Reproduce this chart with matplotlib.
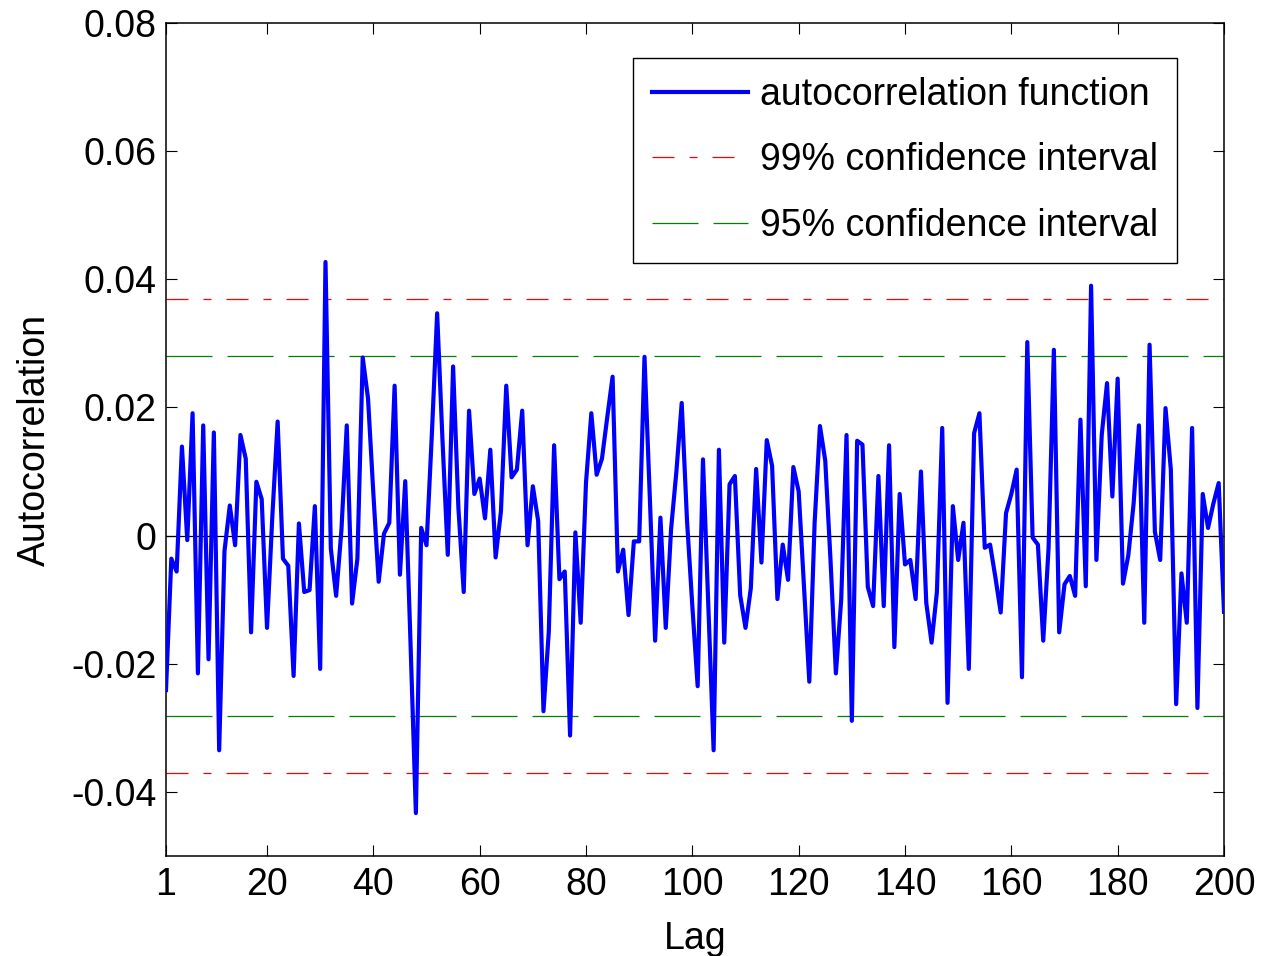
import numpy as np
import matplotlib
matplotlib.use('Agg')
import matplotlib.pyplot as plt

# sample autocorrelation, lags 1..200
lags = np.arange(1, 201)
acf = [
    -0.0241, -0.0036, -0.0056, 0.0139, -0.0007, 0.0191, -0.0215, 0.0172, -0.0193, 0.0161,
    -0.0335, -0.0024, 0.0047, -0.0015, 0.0157, 0.0120, -0.0151, 0.0084, 0.0057, -0.0144,
    0.0030, 0.0178, -0.0036, -0.0047, -0.0219, 0.0019, -0.0088, -0.0085, 0.0046, -0.0208,
    0.0427, -0.0020, -0.0094, 0.0009, 0.0172, -0.0106, -0.0036, 0.0278, 0.0214, 0.0066,
    -0.0072, 0.0003, 0.0020, 0.0234, -0.0061, 0.0085, -0.0170, -0.0433, 0.0012, -0.0015,
    0.0157, 0.0347, 0.0150, -0.0030, 0.0264, 0.0043, -0.0088, 0.0195, 0.0065, 0.0089,
    0.0027, 0.0134, -0.0034, 0.0038, 0.0234, 0.0091, 0.0103, 0.0195, -0.0015, 0.0077,
    0.0023, -0.0274, -0.0150, 0.0141, -0.0068, -0.0056, -0.0312, 0.0005, -0.0136, 0.0083,
    0.0191, 0.0095, 0.0120, 0.0185, 0.0248, -0.0056, -0.0022, -0.0124, -0.0009, -0.0009,
    0.0279, 0.0060, -0.0164, 0.0028, -0.0144, 0.0010, 0.0100, 0.0207, 0.0023, -0.0110,
    -0.0235, 0.0119, -0.0110, -0.0335, 0.0134, -0.0167, 0.0080, 0.0093, -0.0093, -0.0144,
    -0.0082, 0.0104, -0.0042, 0.0149, 0.0109, -0.0099, -0.0014, -0.0069, 0.0107, 0.0069,
    -0.0080, -0.0228, 0.0020, 0.0171, 0.0117, -0.0040, -0.0215, -0.0100, 0.0157, -0.0289,
    0.0148, 0.0142, -0.0080, -0.0110, 0.0093, -0.0110, 0.0141, -0.0174, 0.0065, -0.0045,
    -0.0038, -0.0099, 0.0100, -0.0105, -0.0167, -0.0088, 0.0168, -0.0261, 0.0046, -0.0038,
    0.0020, -0.0208, 0.0160, 0.0191, -0.0019, -0.0014, -0.0065, -0.0120, 0.0035, 0.0065,
    0.0103, -0.0221, 0.0302, -0.0003, -0.0014, -0.0164, -0.0020, 0.0290, -0.0151, -0.0076,
    -0.0063, -0.0094, 0.0181, -0.0079, 0.0390, -0.0038, 0.0157, 0.0238, 0.0061, 0.0245,
    -0.0075, -0.0031, 0.0050, 0.0172, -0.0136, 0.0298, 0.0006, -0.0038, 0.0199, 0.0103,
    -0.0263, -0.0059, -0.0136, 0.0168, -0.0269, 0.0065, 0.0012, 0.0050, 0.0082, -0.0119,
]

# confidence bounds
ci99 = 0.0370
ci95 = 0.0281

xticks = [1, 20, 40, 60, 80, 100, 120, 140, 160, 180, 200]
yticks = [-0.04, -0.02, 0, 0.02, 0.04, 0.06, 0.08]
ytick_labels = ['-0.04', '-0.02', '0', '0.02', '0.04', '0.06', '0.08']

plt.rcParams['font.family'] = ['Liberation Sans', 'DejaVu Sans']
plt.rcParams['axes.unicode_minus'] = False
fs = 27

red = (1, 0, 0)
green = (0, 0.5, 0)
dd = (17.6, 12, 6.4, 12)   # dash-dot pattern
dl = (36.8, 12)            # long dashes

fig = plt.figure(figsize=(12.61, 9.56), dpi=100)
ax = fig.add_axes([166/1261, 1-856/956, (1224-166)/1261, (856-23)/956])

ax.plot(lags, acf, color=(0, 0, 1), lw=3.0, zorder=4, label='autocorrelation function')
ax.plot([lags[0], lags[-1]], [ci99, ci99], color=red, lw=0.9,
        dashes=dd, zorder=2, label='99% confidence interval')
ax.plot([lags[0], lags[-1]], [ci95, ci95], color=green, lw=0.9,
        dashes=dl, zorder=2, label='95% confidence interval')
ax.plot([lags[0], lags[-1]], [-ci99, -ci99], color=red, lw=0.9, dashes=dd, zorder=2)
ax.plot([lags[0], lags[-1]], [-ci95, -ci95], color=green, lw=0.9, dashes=dl, zorder=2)
ax.axhline(0, color='k', lw=0.9, zorder=3)

ax.set_xlim(1, 200)
ax.set_ylim(-0.05, 0.08)
ax.set_xticks(xticks)
ax.set_xticklabels([str(t) for t in xticks])
ax.set_yticks(yticks)
ax.set_yticklabels(ytick_labels)
ax.tick_params(direction='in', length=8, width=0.8, top=True, right=True,
               labelsize=fs, colors='k')
ax.tick_params(axis='x', pad=8)
ax.tick_params(axis='y', pad=7)
for s in ax.spines.values():
    s.set_linewidth(1.1)

ax.set_xlabel('Lag', fontsize=fs, labelpad=13)
ax.set_ylabel('Autocorrelation', fontsize=fs)
ax.yaxis.set_label_coords(-0.107, 0.5)

leg = ax.legend(loc='upper right', bbox_to_anchor=(1177/1261, 1-58/956),
                bbox_transform=fig.transFigure, borderaxespad=0,
                fontsize=fs, handlelength=2.55, handletextpad=0.32,
                labelspacing=0.78, borderpad=0.51, fancybox=False,
                framealpha=1, edgecolor='k')
leg.get_frame().set_linewidth(1.0)

fig.savefig('out.png', dpi=100)
